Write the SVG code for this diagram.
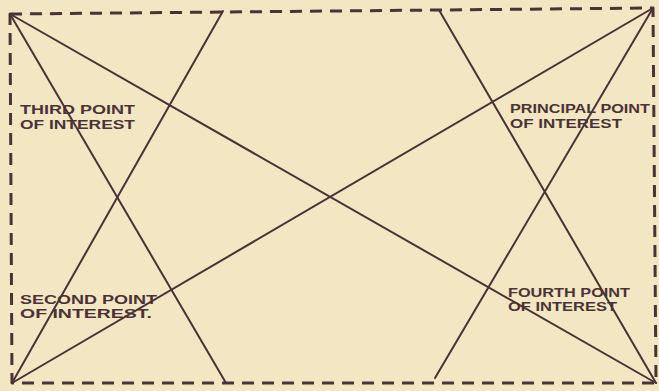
<svg xmlns="http://www.w3.org/2000/svg" width="659" height="391" viewBox="0 0 659 391">
<style>
.bg{fill:#f3e6c3}
.frame{fill:none;stroke:#4a3236;stroke-width:3;stroke-dasharray:12 8;stroke-linejoin:round}
.ln{stroke:#4a3236;stroke-width:2;fill:none;stroke-linecap:round}
.lbl{font-family:"Liberation Sans",Arial,sans-serif;font-weight:bold;font-size:12.5px;fill:#4a3236}
</style>
<rect class="bg" x="0" y="0" width="659" height="391"/>
<g id="frame">
<path class="frame" d="M10,14 L653,8 L656,383 L12,383 Z"/>
</g>
<g id="connectors">
<line class="ln" x1="10" y1="14" x2="656" y2="383"/>
<line class="ln" x1="653" y1="8" x2="12" y2="383"/>
<line class="ln" x1="10" y1="14" x2="226" y2="383"/>
<line class="ln" x1="223" y1="11" x2="12" y2="383"/>
<line class="ln" x1="439" y1="10" x2="656" y2="383"/>
<line class="ln" x1="653" y1="8" x2="435" y2="378"/>
</g>
<g id="third">
<text class="lbl" x="20" y="114" textLength="115" lengthAdjust="spacingAndGlyphs">THIRD POINT</text>
<text class="lbl" x="20" y="129" textLength="115" lengthAdjust="spacingAndGlyphs">OF  INTEREST</text>
</g>
<g id="principal">
<text class="lbl" x="510" y="113" textLength="140" lengthAdjust="spacingAndGlyphs">PRINCIPAL POINT</text>
<text class="lbl" x="510" y="128" textLength="112" lengthAdjust="spacingAndGlyphs">OF  INTEREST</text>
</g>
<g id="second">
<text class="lbl" x="20" y="304" textLength="137" lengthAdjust="spacingAndGlyphs">SECOND POINT</text>
<text class="lbl" x="20" y="318" textLength="132" lengthAdjust="spacingAndGlyphs">OF INTEREST.</text>
</g>
<g id="fourth">
<text class="lbl" x="508" y="297" textLength="122" lengthAdjust="spacingAndGlyphs">FOURTH POINT</text>
<text class="lbl" x="508" y="311" textLength="109" lengthAdjust="spacingAndGlyphs">OF INTEREST</text>
</g>
</svg>
